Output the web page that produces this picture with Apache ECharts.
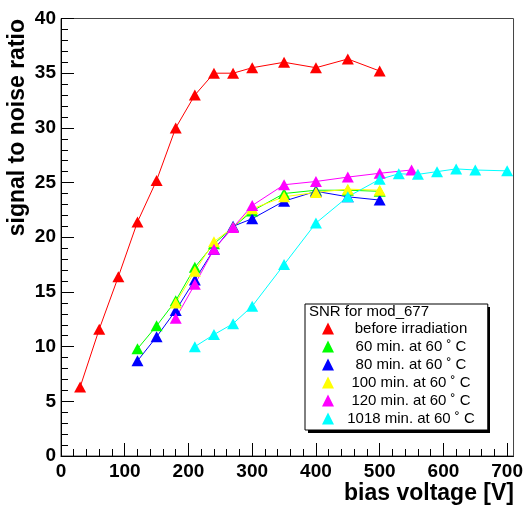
<!DOCTYPE html>
<html><head><meta charset="utf-8">
<script src="https://cdn.jsdelivr.net/npm/echarts@6/dist/echarts.min.js"></script>
<style>html,body{margin:0;padding:0;background:#fff}#c{width:526px;height:506px}</style>
</head><body><div id="c"></div>
<script>
const xTicks = [0, 100, 200, 300, 400, 500, 600, 700];
const xMinorTicks = [20, 40, 60, 80, 120, 140, 160, 180, 220, 240, 260, 280, 320, 340, 360, 380, 420, 440, 460, 480, 520, 540, 560, 580, 620, 640, 660, 680];

const seriesNames = ['before irradiation', '60 min. at 60 \u02DA C', '80 min. at 60 \u02DA C', '100 min. at 60 \u02DA C', '120 min. at 60 \u02DA C', '1018 min. at 60 \u02DA C'];
const seriesColors = ['#ff0000', '#00ff00', '#0000ff', '#ffff00', '#ff00ff', '#00ffff'];

const voltBefore = [30, 60, 90, 120, 150, 180, 210, 240, 270, 300, 350, 400, 450, 500];
const snrBefore  = [6.3, 11.6, 16.4, 21.4, 25.2, 30.0, 33.0, 35.0, 35.0, 35.5, 36.0, 35.5, 36.3, 35.2];

const volt60 = [120, 150, 180, 210, 240, 270, 300, 350, 400, 450, 500];
const snr60  = [9.8, 11.9, 14.2, 17.25, 19.4, 20.9, 22.4, 24.0, 24.3, 24.3, 24.2];

const volt80 = [120, 150, 180, 210, 240, 270, 300, 350, 400, 450, 500];
const snr80  = [8.7, 10.9, 13.3, 16.1, 18.9, 21.0, 21.7, 23.3, 24.2, 23.7, 23.4];

const volt100 = [180, 210, 240, 270, 300, 350, 400, 450, 500];
const snr100  = [14.0, 16.9, 19.6, 20.9, 22.6, 23.7, 24.1, 24.4, 24.3];

const volt120 = [180, 210, 240, 270, 300, 350, 400, 450, 500, 550];
const snr120  = [12.6, 15.7, 18.9, 20.9, 22.9, 24.8, 25.1, 25.5, 25.85, 26.15];

const volt1018 = [210, 240, 270, 300, 350, 400, 450, 500, 530, 560, 590, 620, 650, 700];
const snr1018  = [10.0, 11.1, 12.1, 13.7, 17.5, 21.3, 23.7, 25.3, 25.8, 25.75, 26.0, 26.25, 26.15, 26.07];

const allX = [voltBefore, volt60, volt80, volt100, volt120, volt1018];
const allY = [snrBefore, snr60, snr80, snr100, snr120, snr1018];

const FONT = 'Liberation Sans';
const chart = echarts.init(document.getElementById('c'), null, {renderer: 'canvas'});

const series = seriesNames.map((name, i) => ({
  name: name,
  type: 'line',
  xAxisIndex: 0,
  data: allX[i].map((x, j) => [x, allY[i][j]]),
  symbol: 'triangle',
  symbolSize: [12, 11],
  lineStyle: {width: 1, color: seriesColors[i]},
  itemStyle: {color: seriesColors[i]},
  emphasis: {disabled: true}
}));

chart.setOption({
  animation: false,
  backgroundColor: '#fff',
  grid: {left: 61, right: 12, top: 18.5, bottom: 50, show: true, borderColor: '#444', borderWidth: 1},
  xAxis: [{
    type: 'value', min: 0, max: 710, position: 'bottom',
    axisLine: {show: true, lineStyle: {color: '#000', width: 1}},
    axisTick: {show: true, inside: true, length: 13, customValues: xTicks, lineStyle: {color: '#000'}},
    axisLabel: {customValues: xTicks, fontFamily: FONT, fontWeight: 'bold', fontSize: 19, color: '#000', margin: 6},
    splitLine: {show: false}
  }, {
    type: 'value', min: 0, max: 710, position: 'bottom',
    axisLine: {show: false},
    axisTick: {show: true, inside: true, length: 7, customValues: xMinorTicks, lineStyle: {color: '#000'}},
    axisLabel: {show: false},
    splitLine: {show: false}
  }],
  yAxis: {
    type: 'value', min: 0, max: 40, interval: 5,
    axisLine: {show: true, lineStyle: {color: '#000', width: 1}},
    axisTick: {show: true, inside: true, length: 13, lineStyle: {color: '#000'}},
    minorTick: {show: true, splitNumber: 5, length: 7, lineStyle: {color: '#000'}},
    axisLabel: {fontFamily: FONT, fontWeight: 'bold', fontSize: 19, color: '#000', margin: 5},
    splitLine: {show: false}
  },
  title: {
    text: 'SNR for mod_677', left: 309, top: 304, padding: 0, z: 12,
    textStyle: {fontFamily: FONT, fontWeight: 'normal', fontSize: 15, color: '#000', lineHeight: 16}
  },
  legend: {
    orient: 'vertical', left: 305, top: 304, z: 10,
    padding: [17, 13, 4, 17],
    itemWidth: 12, itemHeight: 12, itemGap: 3,
    icon: 'triangle',
    selectedMode: false,
    backgroundColor: '#fff', borderColor: '#000', borderWidth: 1,
    data: seriesNames,
    formatter: n => '{c|' + n + '}',
    textStyle: {fontFamily: FONT, fontSize: 15, color: '#000',
      rich: {c: {width: 144, align: 'center', fontFamily: FONT, fontSize: 15, color: '#000'}}}
  },
  graphic: [
    {type: 'rect', z: 5, shape: {x: 308, y: 307, width: 182, height: 126}, style: {fill: '#000'}},
    {type: 'text', x: 18, y: 19, rotation: Math.PI / 2,
     style: {text: 'signal to noise ratio', font: 'bold 23px "Liberation Sans"', fill: '#000', align: 'right', verticalAlign: 'middle'}},
    {type: 'text', x: 514, y: 494,
     style: {text: 'bias voltage [V]', font: 'bold 23px "Liberation Sans"', fill: '#000', align: 'right', verticalAlign: 'middle'}}
  ],
  series: series
});
</script></body></html>
